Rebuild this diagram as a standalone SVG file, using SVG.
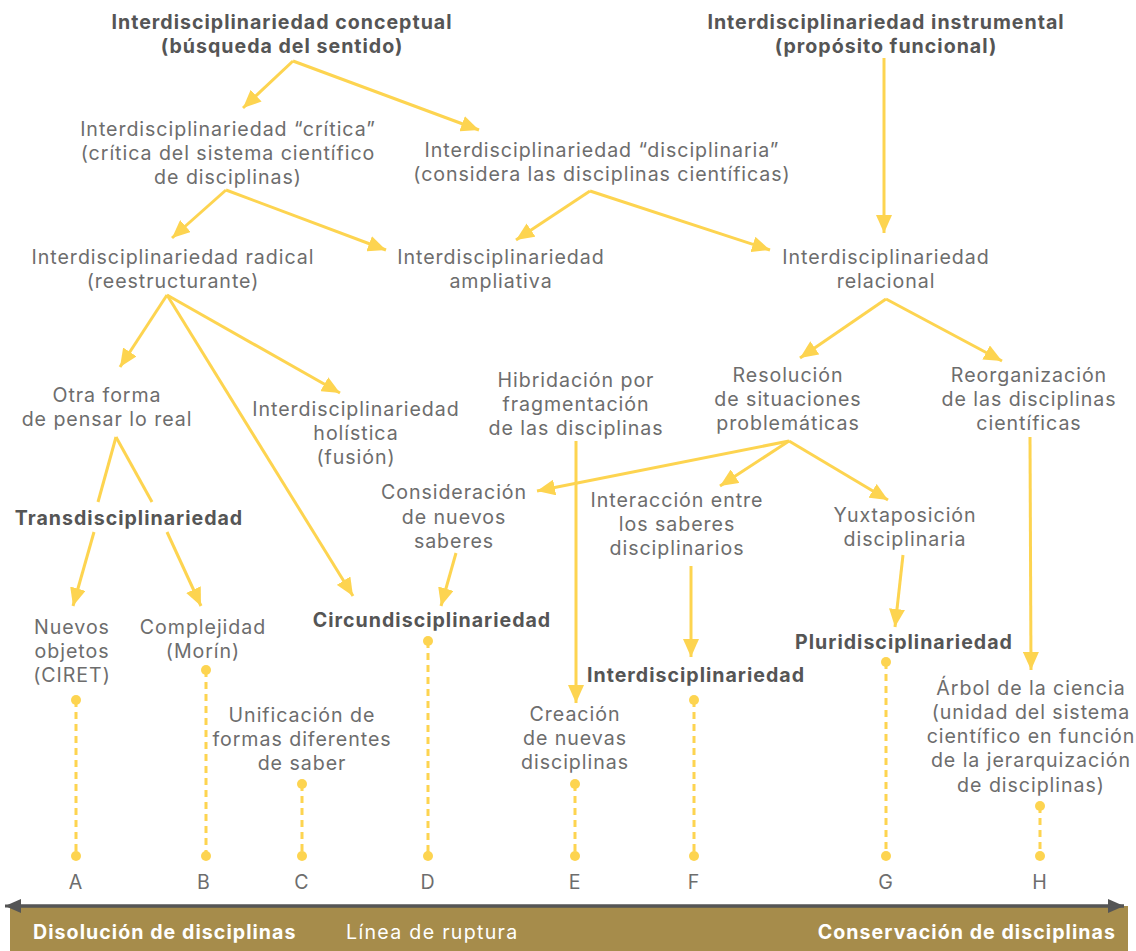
<svg xmlns="http://www.w3.org/2000/svg" width="1136" height="951" viewBox="0 0 1136 951">
<defs>
<style>
text{font-family:"Inter","Open Sans","Liberation Sans",sans-serif;font-size:19.6px;fill:#6d6d6d;text-anchor:middle;letter-spacing:0.95px}
.b{font-weight:bold;fill:#555555;letter-spacing:1px}
.w{fill:#ffffff;text-anchor:start}
.c line,.c path{stroke:#FDD450;stroke-width:3;fill:none}
.a{marker-end:url(#ah)}
.d line{stroke:#FDD450;stroke-width:3;stroke-dasharray:7 5}
.d circle{fill:#FDD450}
</style>
<marker id="ah" viewBox="0 0 18 16" refX="18" refY="8" markerWidth="18" markerHeight="16" markerUnits="userSpaceOnUse" orient="auto"><path d="M0,0 L18,8 L0,16 z" fill="#FDD450"/></marker>
<marker id="gh" viewBox="0 0 16 14" refX="16" refY="7" markerWidth="16" markerHeight="14" markerUnits="userSpaceOnUse" orient="auto"><path d="M0,0 L16,7 L0,14 z" fill="#555555"/></marker>
</defs>
<rect width="1136" height="951" fill="#ffffff"/>

<g class="c" id="connectors">
<line class="a" x1="293" y1="61" x2="243" y2="108"/>
<line class="a" x1="293" y1="61" x2="479" y2="130"/>
<line class="a" x1="884" y1="58" x2="884" y2="233"/>
<line class="a" x1="226" y1="190" x2="172" y2="238"/>
<line class="a" x1="226" y1="190" x2="386" y2="250"/>
<line class="a" x1="590" y1="191" x2="516" y2="240"/>
<line class="a" x1="590" y1="191" x2="770" y2="250"/>
<line class="a" x1="886" y1="299" x2="800" y2="358"/>
<line class="a" x1="886" y1="299" x2="1002" y2="361"/>
<line class="a" x1="167" y1="295" x2="120" y2="367"/>
<line class="a" x1="167" y1="295" x2="340" y2="393"/>
<line class="a" x1="167" y1="295" x2="353" y2="596"/>
<line x1="116" y1="437" x2="98" y2="502"/>
<line class="a" x1="94" y1="532" x2="73" y2="606"/>
<line x1="116" y1="437" x2="152" y2="502"/>
<line class="a" x1="167" y1="532" x2="201" y2="606"/>
<line class="a" x1="456" y1="553" x2="441" y2="606"/>
<line class="a" x1="576" y1="441" x2="576" y2="703"/>
<line class="a" x1="789" y1="441" x2="537" y2="491"/>
<line class="a" x1="789" y1="441" x2="720" y2="486"/>
<line class="a" x1="789" y1="441" x2="888" y2="500"/>
<line class="a" x1="691" y1="566" x2="691" y2="657"/>
<line class="a" x1="903" y1="555" x2="895" y2="627"/>
<line class="a" x1="1030" y1="437" x2="1031" y2="670"/>
</g>

<g class="d" id="dotted">
<line x1="76" y1="700" x2="76" y2="856"/><circle cx="76" cy="700" r="5"/><circle cx="76" cy="856" r="5"/>
<line x1="206" y1="670" x2="206" y2="856"/><circle cx="206" cy="670" r="5"/><circle cx="206" cy="856" r="5"/>
<line x1="302" y1="784" x2="302" y2="856"/><circle cx="302" cy="784" r="5"/><circle cx="302" cy="856" r="5"/>
<line x1="428" y1="641" x2="428" y2="856"/><circle cx="428" cy="641" r="5"/><circle cx="428" cy="856" r="5"/>
<line x1="575" y1="784" x2="575" y2="856"/><circle cx="575" cy="784" r="5"/><circle cx="575" cy="856" r="5"/>
<line x1="694" y1="700" x2="694" y2="856"/><circle cx="694" cy="700" r="5"/><circle cx="694" cy="856" r="5"/>
<line x1="886" y1="662" x2="886" y2="856"/><circle cx="886" cy="662" r="5"/><circle cx="886" cy="856" r="5"/>
<line x1="1040" y1="806" x2="1040" y2="856"/><circle cx="1040" cy="806" r="5"/><circle cx="1040" cy="856" r="5"/>
</g>

<g id="n-conceptual"><text class="b" x="282" y="29">Interdisciplinariedad conceptual<tspan x="282" dy="24">(búsqueda del sentido)</tspan></text></g>
<g id="n-instrumental"><text class="b" x="886" y="29">Interdisciplinariedad instrumental<tspan x="886" dy="24">(propósito funcional)</tspan></text></g>
<g id="n-critica"><text x="228" y="136">Interdisciplinariedad “crítica”<tspan x="228" dy="24">(crítica del sistema científico</tspan><tspan x="228" dy="24">de disciplinas)</tspan></text></g>
<g id="n-disciplinaria"><text x="602" y="157">Interdisciplinariedad “disciplinaria”<tspan x="602" dy="24">(considera las disciplinas científicas)</tspan></text></g>
<g id="n-radical"><text x="173" y="264">Interdisciplinariedad radical<tspan x="173" dy="24">(reestructurante)</tspan></text></g>
<g id="n-ampliativa"><text x="501" y="264">Interdisciplinariedad<tspan x="501" dy="24">ampliativa</tspan></text></g>
<g id="n-relacional"><text x="886" y="264">Interdisciplinariedad<tspan x="886" dy="24">relacional</tspan></text></g>
<g id="n-otra"><text x="107" y="402">Otra forma<tspan x="107" dy="24">de pensar lo real</tspan></text></g>
<g id="n-holistica"><text x="356" y="416">Interdisciplinariedad<tspan x="356" dy="24">holística</tspan><tspan x="356" dy="24">(fusión)</tspan></text></g>
<g id="n-hibridacion"><text x="576" y="387">Hibridación por<tspan x="576" dy="24">fragmentación</tspan><tspan x="576" dy="24">de las disciplinas</tspan></text></g>
<g id="n-resolucion"><text x="788" y="382">Resolución<tspan x="788" dy="24">de situaciones</tspan><tspan x="788" dy="24">problemáticas</tspan></text></g>
<g id="n-reorganizacion"><text x="1029" y="382">Reorganización<tspan x="1029" dy="24">de las disciplinas</tspan><tspan x="1029" dy="24">científicas</tspan></text></g>
<g id="n-trans"><text class="b" x="129" y="525">Transdisciplinariedad</text></g>
<g id="n-consideracion"><text x="454" y="499">Consideración<tspan x="454" dy="25">de nuevos</tspan><tspan x="454" dy="24">saberes</tspan></text></g>
<g id="n-interaccion"><text x="677" y="507">Interacción entre<tspan x="677" dy="24">los saberes</tspan><tspan x="677" dy="24">disciplinarios</tspan></text></g>
<g id="n-yuxta"><text x="905" y="522">Yuxtaposición<tspan x="905" dy="24">disciplinaria</tspan></text></g>
<g id="n-nuevos"><text x="72" y="634">Nuevos<tspan x="72" dy="24">objetos</tspan><tspan x="72" dy="24">(CIRET)</tspan></text></g>
<g id="n-complejidad"><text x="203" y="634">Complejidad<tspan x="203" dy="24">(Morín)</tspan></text></g>
<g id="n-circun"><text class="b" x="432" y="627">Circundisciplinariedad</text></g>
<g id="n-unificacion"><text x="302" y="722">Unificación de<tspan x="302" dy="24">formas diferentes</tspan><tspan x="302" dy="24">de saber</tspan></text></g>
<g id="n-creacion"><text x="575" y="721">Creación<tspan x="575" dy="24">de nuevas</tspan><tspan x="575" dy="24">disciplinas</tspan></text></g>
<g id="n-inter"><text class="b" x="696" y="682">Interdisciplinariedad</text></g>
<g id="n-pluri"><text class="b" x="904" y="649">Pluridisciplinariedad</text></g>
<g id="n-arbol"><text x="1031" y="695">Árbol de la ciencia<tspan x="1031" dy="24">(unidad del sistema</tspan><tspan x="1031" dy="24">científico en función</tspan><tspan x="1031" dy="24">de la jerarquización</tspan><tspan x="1031" dy="25">de disciplinas)</tspan></text></g>

<g id="letters">
<text x="76" y="889">A</text><text x="204" y="889">B</text><text x="302" y="889">C</text><text x="428" y="889">D</text><text x="575" y="889">E</text><text x="694" y="889">F</text><text x="886" y="889">G</text><text x="1040" y="889">H</text>
</g>

<g id="bar">
<rect x="10" y="906" width="1118" height="45" fill="#A68C4B"/>
<line x1="12" y1="906" x2="1124" y2="906" stroke="#555555" stroke-width="3" marker-end="url(#gh)"/>
<line x1="1124" y1="906" x2="5" y2="906" stroke="#555555" stroke-width="3" marker-end="url(#gh)"/>
<text class="w b" x="33" y="939" style="fill:#ffffff;letter-spacing:1.05px">Disolución de disciplinas</text>
<text class="w" x="346" y="939" style="letter-spacing:1.3px">Línea de ruptura</text>
<text class="b" x="1116" y="939" style="fill:#ffffff;text-anchor:end;letter-spacing:1.05px">Conservación de disciplinas</text>
</g>
</svg>
